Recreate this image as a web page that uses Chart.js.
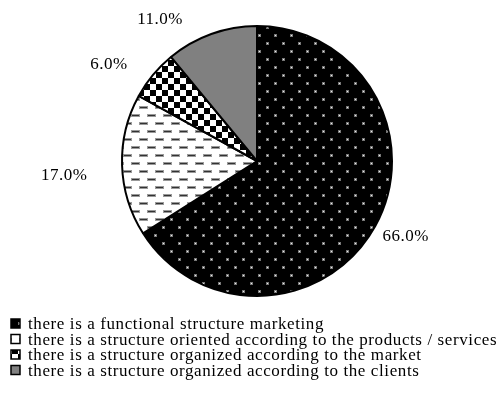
<!DOCTYPE html>
<html>
<head>
<meta charset="utf-8">
<script src="https://cdn.jsdelivr.net/npm/chart.js@4/dist/chart.umd.min.js"></script>
<style>
  html, body { margin: 0; padding: 0; background: #fff; }
  #wrap { width: 497px; height: 402px; position: relative; }
</style>
</head>
<body>
<div id="wrap"><canvas id="pieChart" width="497" height="402"></canvas></div>
<script>
const categories = [
    "there is a functional structure marketing",
    "there is a structure oriented according to the products / services",
    "there is a structure organized according to the market",
    "there is a structure organized according to the clients"
];
const shares = [66.0, 17.0, 6.0, 11.0]; // percent

// label nudges (px) - the original places labels "best fit"
const labelNudge = [[4, -4], [-28, 9], [-21, 9], [-41, 14]];

// fill patterns like the original print chart
function makePattern(w, h, draw) {
    const c = document.createElement("canvas");
    c.width = w; c.height = h;
    const g = c.getContext("2d");
    draw(g);
    return g.createPattern(c, "repeat");
}

const dotted = makePattern(16, 16, g => {
    g.fillStyle = "#000"; g.fillRect(0, 0, 16, 16);
    g.fillStyle = "#777";
    g.fillRect(2, 2, 3, 3);
    g.fillRect(10, 10, 3, 3);
    g.fillStyle = "#eee";
    g.fillRect(3, 3, 1, 1);
    g.fillRect(11, 11, 1, 1);
});
const dashed = makePattern(16, 16, g => {
    g.fillStyle = "#fff"; g.fillRect(0, 0, 16, 16);
    g.fillStyle = "#999";
    g.fillRect(3, 2, 9, 3);
    g.fillRect(11, 10, 9, 3); g.fillRect(-5, 10, 9, 3);
    g.fillStyle = "#333";
    g.fillRect(4, 3, 7, 1);
    g.fillRect(12, 11, 7, 1); g.fillRect(-4, 11, 7, 1);
});
const checker = makePattern(12, 12, g => {
    g.fillStyle = "#fff"; g.fillRect(0, 0, 12, 12);
    g.fillStyle = "#000";
    g.fillRect(0, 0, 6, 6);
    g.fillRect(6, 6, 6, 6);
});
const fills = [dotted, dashed, checker, "#808080"];

const serif = "'Liberation Serif', 'DejaVu Serif', serif";

const pctLabels = {
    id: "pctLabels",
    afterDatasetsDraw(chart) {
        const ctx = chart.ctx;
        const meta = chart.getDatasetMeta(0);
        ctx.save();
        ctx.font = "17px " + serif;
        ctx.letterSpacing = "0.5px";
        ctx.fillStyle = "#000";
        ctx.textAlign = "center";
        ctx.textBaseline = "middle";
        meta.data.forEach((arc, i) => {
            const mid = (arc.startAngle + arc.endAngle) / 2;
            const r = arc.outerRadius + 30;
            const x = arc.x + Math.cos(mid) * r + labelNudge[i][0];
            const y = arc.y + Math.sin(mid) * r + labelNudge[i][1];
            ctx.fillText(shares[i].toFixed(1) + "%", x, y);
        });
        ctx.restore();
    }
};

const sideLegend = {
    id: "sideLegend",
    afterDraw(chart) {
        const ctx = chart.ctx;
        ctx.save();
        ctx.font = "17px " + serif;
        ctx.letterSpacing = "0.6px";
        ctx.textBaseline = "middle";
        categories.forEach((name, i) => {
            const y = 324 + i * 15.5;
            ctx.fillStyle = fills[i];
            ctx.fillRect(11, y - 5, 9, 9);
            ctx.strokeStyle = "#000";
            ctx.lineWidth = 1.5;
            ctx.strokeRect(11, y - 5, 9, 9);
            ctx.fillStyle = "#000";
            ctx.fillText(name, 28, y + 1);
        });
        ctx.restore();
    }
};

new Chart(document.getElementById("pieChart"), {
    type: "pie",
    data: {
        labels: categories,
        datasets: [{
            data: shares,
            backgroundColor: fills,
            borderColor: "#000",
            borderWidth: 2
        }]
    },
    options: {
        responsive: false,
        animation: false,
        layout: { padding: { left: 121, right: 104, top: 25, bottom: 105 } },
        plugins: {
            legend: { display: false },
            tooltip: { enabled: false }
        }
    },
    plugins: [pctLabels, sideLegend]
});
</script>
</body>
</html>
